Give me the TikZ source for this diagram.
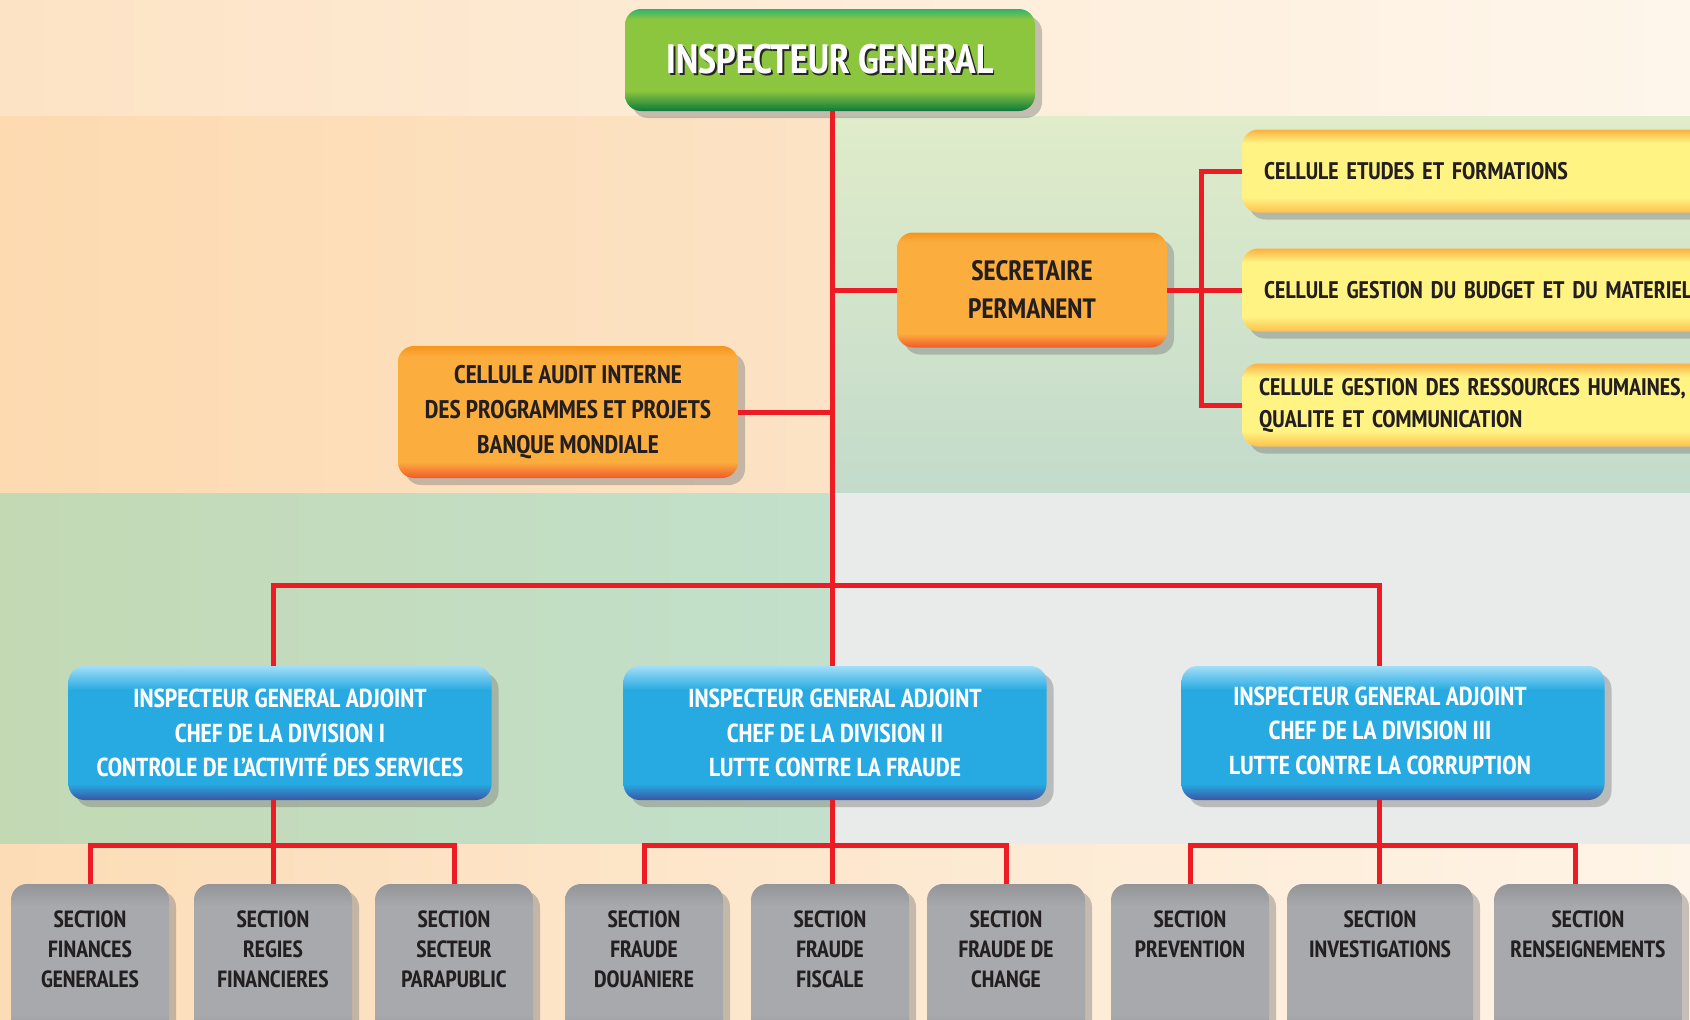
\documentclass[tikz,border=0pt]{standalone}
\usepackage{fontspec}
\setmainfont{PT Sans Narrow}
\usetikzlibrary{shadows}

\definecolor{redline}{HTML}{ED1C24}
\definecolor{txtdark}{HTML}{231F20}
\definecolor{igmain}{HTML}{8CC63F}
\definecolor{igtop}{HTML}{2EB36E}
\definecolor{igbot}{HTML}{0D7A3C}
\definecolor{ormain}{HTML}{FBAD3E}
\definecolor{ortop}{HTML}{F7941D}
\definecolor{orbot}{HTML}{F15A29}
\definecolor{yemain}{HTML}{FFF383}
\definecolor{yetop}{HTML}{FBB040}
\definecolor{yebot}{HTML}{FDC04C}
\definecolor{blmain}{HTML}{27AAE1}
\definecolor{bltop}{HTML}{A3DEF8}
\definecolor{blbot}{HTML}{3A56A5}
\definecolor{grmain}{HTML}{A7A9AC}
\definecolor{grtop}{HTML}{939598}
\definecolor{grbot}{HTML}{8A8C8F}
\definecolor{bgtopl}{HTML}{FDE3C5}
\definecolor{bgtopr}{HTML}{FEF6EB}
\definecolor{bgpeachl}{HTML}{FDDAB0}
\definecolor{bgpeachr}{HTML}{FCE3C5}
\definecolor{bggreent}{HTML}{E0ECCA}
\definecolor{bggreenb}{HTML}{C3DBCB}
\definecolor{bgmintl}{HTML}{C3D9B4}
\definecolor{bgmintr}{HTML}{C2E0CB}
\definecolor{bggray}{HTML}{E9EBEA}
\definecolor{bgbotl}{HTML}{FCDCB6}
\definecolor{bgbotr}{HTML}{FEF4E7}

\pgfdeclareverticalshading{igshade}{100bp}{color(0bp)=(igbot); color(25bp)=(igbot); color(35bp)=(igmain); color(70bp)=(igmain); color(75bp)=(igtop); color(100bp)=(igtop)}
\pgfdeclareverticalshading{orshade}{100bp}{color(0bp)=(orbot); color(25bp)=(orbot); color(31bp)=(ormain); color(71bp)=(ormain); color(75bp)=(ortop); color(100bp)=(ortop)}
\pgfdeclareverticalshading{yeshade}{100bp}{color(0bp)=(yebot); color(25bp)=(yebot); color(34bp)=(yemain); color(67bp)=(yemain); color(75bp)=(yetop); color(100bp)=(yetop)}
\pgfdeclareverticalshading{blshade}{100bp}{color(0bp)=(blbot); color(25bp)=(blbot); color(31bp)=(blmain); color(66bp)=(blmain); color(75bp)=(bltop); color(100bp)=(bltop)}
\pgfdeclareverticalshading{grshade}{100bp}{color(0bp)=(grbot); color(25bp)=(grbot); color(34bp)=(grmain); color(68bp)=(grmain); color(75bp)=(grtop); color(100bp)=(grtop)}

\newcommand{\shadowed}[1]{\leavevmode\rlap{\hspace{2pt}\raisebox{-2.5pt}{\color{black!85}#1}}{\color{white}#1}}
\newcommand{\divpad}{\hspace*{26pt}}
\newcommand{\tightspaces}{\fontdimen2\font=4.5pt\relax}

\begin{document}
\begin{tikzpicture}[x=1pt,y=-1pt,
  box/.style={rounded corners=16pt, shade, align=center, text=txtdark,
    drop shadow={shadow xshift=7pt,shadow yshift=-7pt,opacity=.45}},
  igbox/.style={box, shading=igshade, minimum width=410pt, minimum height=102pt,
    font=\bfseries\fontsize{41}{46}\selectfont},
  orbox/.style={box, shading=orshade},
  cellbox/.style={box, shading=yeshade, anchor=west, align=left, text width=520pt,
    inner xsep=22pt, minimum height=83pt,
    font=\bfseries\fontsize{24}{32}\selectfont\tightspaces},
  divbox/.style={box, shading=blshade, text=white, minimum width=423pt, minimum height=134pt,
    font=\bfseries\fontsize{26}{34.5}\selectfont},
  secbox/.style={box, shading=grshade, minimum width=158pt, minimum height=160pt,
    font=\bfseries\fontsize{23.5}{30}\selectfont},
  link/.style={draw=redline, line width=5pt}]
\useasboundingbox (0,0) rectangle (1690,1020);
\shade[left color=bgtopl, right color=bgtopr] (0,0) rectangle (1690,116);
\shade[left color=bgpeachl, right color=bgpeachr] (0,116) rectangle (832,493);
\shade[top color=bggreent, bottom color=bggreenb] (832,116) rectangle (1690,493);
\shade[left color=bgmintl, right color=bgmintr] (0,493) rectangle (832,844);
\fill[bggray] (832,493) rectangle (1690,844);
\shade[left color=bgbotl, right color=bgbotr] (0,844) rectangle (1690,1020);

\node[igbox] (ig) at (830,60) {\shadowed{INSPECTEUR GENERAL}};
\node[orbox, minimum width=270pt, minimum height=115pt,
  font=\bfseries\fontsize{28}{38}\selectfont] (sp) at (1032,290) {SECRETAIRE\\PERMANENT};
\node[orbox, minimum width=340pt, minimum height=132pt,
  font=\bfseries\fontsize{25.5}{35}\selectfont] (audit) at (568,412)
  {CELLULE AUDIT INTERNE\\DES PROGRAMMES ET PROJETS\\BANQUE MONDIALE};
\node[cellbox] (cel1) at (1242,171) {CELLULE ETUDES ET FORMATIONS};
\node[cellbox] (cel2) at (1242,290) {CELLULE GESTION DU BUDGET ET DU MATERIEL};
\node[cellbox, inner xsep=17pt] (cel3) at (1242,405) {CELLULE GESTION DES RESSOURCES HUMAINES,\\QUALITE ET COMMUNICATION};

\node[divbox] (div1) at (280,733) {INSPECTEUR GENERAL ADJOINT\\CHEF DE LA DIVISION I\\CONTROLE DE L'ACTIVIT\'E DES SERVICES};
\node[divbox] (div2) at (835,733) {INSPECTEUR GENERAL ADJOINT\\CHEF DE LA DIVISION II\\LUTTE CONTRE LA FRAUDE};
\node[divbox] (div3) at (1393,733) {\raisebox{-2pt}{\begin{tabular}{@{}c@{}}INSPECTEUR GENERAL ADJOINT\\CHEF DE LA DIVISION III\\LUTTE CONTRE LA CORRUPTION\end{tabular}}\divpad};

\node[secbox] (s1) at (90,964) {SECTION\\FINANCES\\GENERALES\\\mbox{}};
\node[secbox] (s2) at (273,964) {SECTION\\REGIES\\FINANCIERES\\\mbox{}};
\node[secbox] (s3) at (454,964) {SECTION\\SECTEUR\\PARAPUBLIC\\\mbox{}};
\node[secbox] (s4) at (644,964) {SECTION\\FRAUDE\\DOUANIERE\\\mbox{}};
\node[secbox] (s5) at (830,964) {SECTION\\FRAUDE\\FISCALE\\\mbox{}};
\node[secbox] (s6) at (1006,964) {SECTION\\FRAUDE DE\\CHANGE\\\mbox{}};
\node[secbox] (s7) at (1190,964) {SECTION\\PREVENTION\\\mbox{}\\\mbox{}};
\node[secbox, minimum width=186pt] (s8) at (1380,964) {SECTION\\INVESTIGATIONS\\\mbox{}\\\mbox{}};
\node[secbox, minimum width=188pt] (s9) at (1588,964) {SECTION\\RENSEIGNEMENTS\\\mbox{}\\\mbox{}};

\coordinate (bus) at (832,585);
\coordinate (cb) at (1201,290);
\coordinate (b1) at (273,845);
\coordinate (b2) at (832,845);
\coordinate (b3) at (1379,845);
\coordinate (d9) at (1575,845);
\draw[link] (ig.south -| bus) -- (div2.north -| bus);
\draw[link] (sp.west) -- (sp.west -| bus);
\draw[link] (audit.east) -- (audit.east -| bus);
\draw[link] (sp.east) -- (cel2.west);
\draw[link] (cel1.west) -| (cb) |- (cel3.west);
\draw[link] (div1.north -| b1) |- (bus) -| (div3.north -| b3);
\draw[link] (div1.south -| b1) -- (s2.north -| b1);
\draw[link] (s1.north) |- (b1) -| (s3.north);
\draw[link] (div2.south -| b2) -- (s5.north -| b2);
\draw[link] (s4.north) |- (b2) -| (s6.north);
\draw[link] (div3.south -| b3) -- (s8.north -| b3);
\draw[link] (s7.north) |- (d9) -- (d9 |- s9.north);
\end{tikzpicture}
\end{document}
